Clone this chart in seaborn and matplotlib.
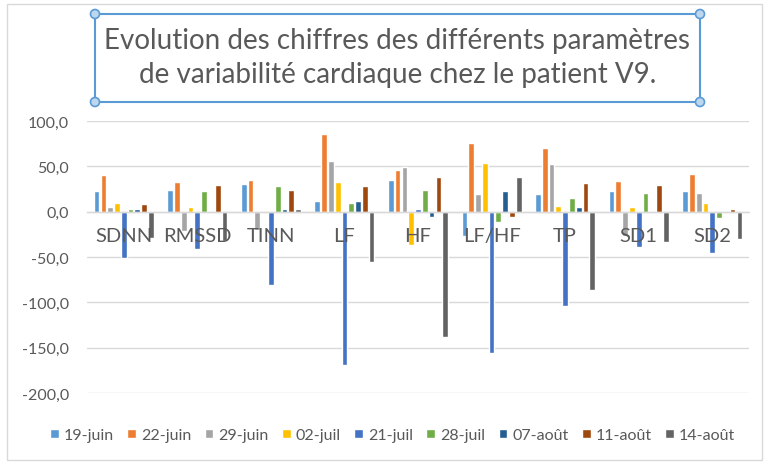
import matplotlib
matplotlib.use("Agg")
import matplotlib.pyplot as plt
import seaborn as sns
import pandas as pd
from matplotlib.patches import Rectangle, Ellipse

sns.set_theme(style="white")
plt.rcParams['font.family'] = ['Lato', 'DejaVu Sans']

params = ["SDNN", "RMSSD", "TINN", "LF", "HF", "LF/HF", "TP", "SD1", "SD2"]
dates = ["19-juin", "22-juin", "29-juin", "02-juil", "21-juil", "28-juil", "07-août", "11-août", "14-août"]

v_19juin = [22.8, 24.0, 31.0, 12.0, 35.0, -27.0, 19.0, 22.8, 22.8]
v_22juin = [40.0, 33.0, 35.0, 86.0, 45.6, 76.0, 70.6, 33.5, 42.0]
v_29juin = [5.0, -21.0, -20.0, 56.0, 49.0, 19.0, 52.6, -27.0, 20.6]
v_02juil = [10.0, 5.0, 0.0, 33.0, -37.0, 54.0, 6.6, 5.0, 10.0]
v_21juil = [-51.5, -41.0, -81.0, -169.5, 3.0, -155.5, -104.0, -39.0, -46.0]
v_28juil = [3.0, 23.0, 28.0, 10.0, 24.0, -11.0, 15.4, 20.6, -7.4]
v_07aout = [3.0, 0.0, 3.0, 12.0, -6.0, 23.0, 5.0, 0.0, 0.0]
v_11aout = [8.0, 29.0, 24.0, 28.0, 38.0, -5.5, 31.6, 29.4, 3.0]
v_14aout = [-29.0, -32.0, 3.0, -55.0, -138.0, 38.0, -86.8, -34.0, -30.0]

series = [v_19juin, v_22juin, v_29juin, v_02juil, v_21juil, v_28juil, v_07aout, v_11aout, v_14aout]
colors = ["#5B9BD5", "#ED7D31", "#A5A5A5", "#FFC000", "#4472C4", "#70AD47", "#255E91", "#9E480E", "#636363"]

rows = []
for d, vals in zip(dates, series):
    for p, v in zip(params, vals):
        rows.append({"param": p, "date": d, "value": v})
df = pd.DataFrame(rows)

fig = plt.figure(figsize=(7.65, 4.64), dpi=100)
ax = fig.add_axes([87/765, 1-394/464, (749-87)/765, (394-122)/464])

sns.barplot(data=df, x="param", y="value", hue="date", order=params, hue_order=dates,
            palette=colors, width=0.83, ax=ax, legend=True, saturation=1)

# narrow bars slightly to leave small gaps
for patch in ax.patches:
    w = patch.get_width()
    if w > 0:
        patch.set_x(patch.get_x() + w * 0.08)
        patch.set_width(w * 0.84)

ax.set_ylim(-200, 100)
ax.set_xlim(-0.5, 8.5)
ax.set_yticks([-200, -150, -100, -50, 0, 50, 100])
ax.set_yticklabels([f"{t:.1f}".replace(".", ",") for t in [-200, -150, -100, -50, 0, 50, 100]])
ax.set_xlabel("")
ax.set_ylabel("")
ax.yaxis.grid(True, color="#D9D9D9", linewidth=1)
ax.set_axisbelow(True)
for s in ["top", "right", "left"]:
    ax.spines[s].set_visible(False)
ax.spines["bottom"].set_position(("data", 0))
ax.spines["bottom"].set_color("#D9D9D9")
ax.spines["bottom"].set_linewidth(1)
ax.tick_params(axis="y", length=0, labelsize=11.5, labelcolor="#595959", pad=13)
ax.tick_params(axis="x", length=0, labelsize=14.5, labelcolor="#595959", pad=11)
ax.xaxis.set_zorder(5)

handles, labels = ax.get_legend_handles_labels()
ax.legend_.remove()
fig.legend(handles, labels, loc="center", bbox_to_anchor=(0.513, 1-436/464), ncol=9,
           frameon=False, fontsize=11.5, handlelength=0.55, handleheight=0.55,
           handletextpad=0.3, columnspacing=0.85, labelcolor="#595959")

# title box
x0, x1, y0, y1 = 95/765, 700/765, 1-103/464, 1-15/464
fig.add_artist(Rectangle((x0, y0), x1-x0, y1-y0, transform=fig.transFigure,
                         fill=False, edgecolor="#5B9BD5", linewidth=1.5))
for (cx, cy) in [(x0, y0), (x0, y1), (x1, y0), (x1, y1)]:
    fig.add_artist(Ellipse((cx, cy), 9/765, 9/464, transform=fig.transFigure,
                           facecolor="#BDD7EE", edgecolor="#5B9BD5", linewidth=1.2, zorder=10))
fig.text((x0+x1)/2, (y0+y1)/2 + 1/464, "Evolution des chiffres des différents paramètres\nde variabilité cardiaque chez le patient V9.",
         ha="center", va="center", fontsize=20, color="#595959", linespacing=1.35)

# outer border
fig.add_artist(Rectangle((7/765, 3/464), 755/765, 456/464, transform=fig.transFigure,
                         fill=False, edgecolor="#D9D9D9", linewidth=1))

fig.savefig("out.png", dpi=100)
